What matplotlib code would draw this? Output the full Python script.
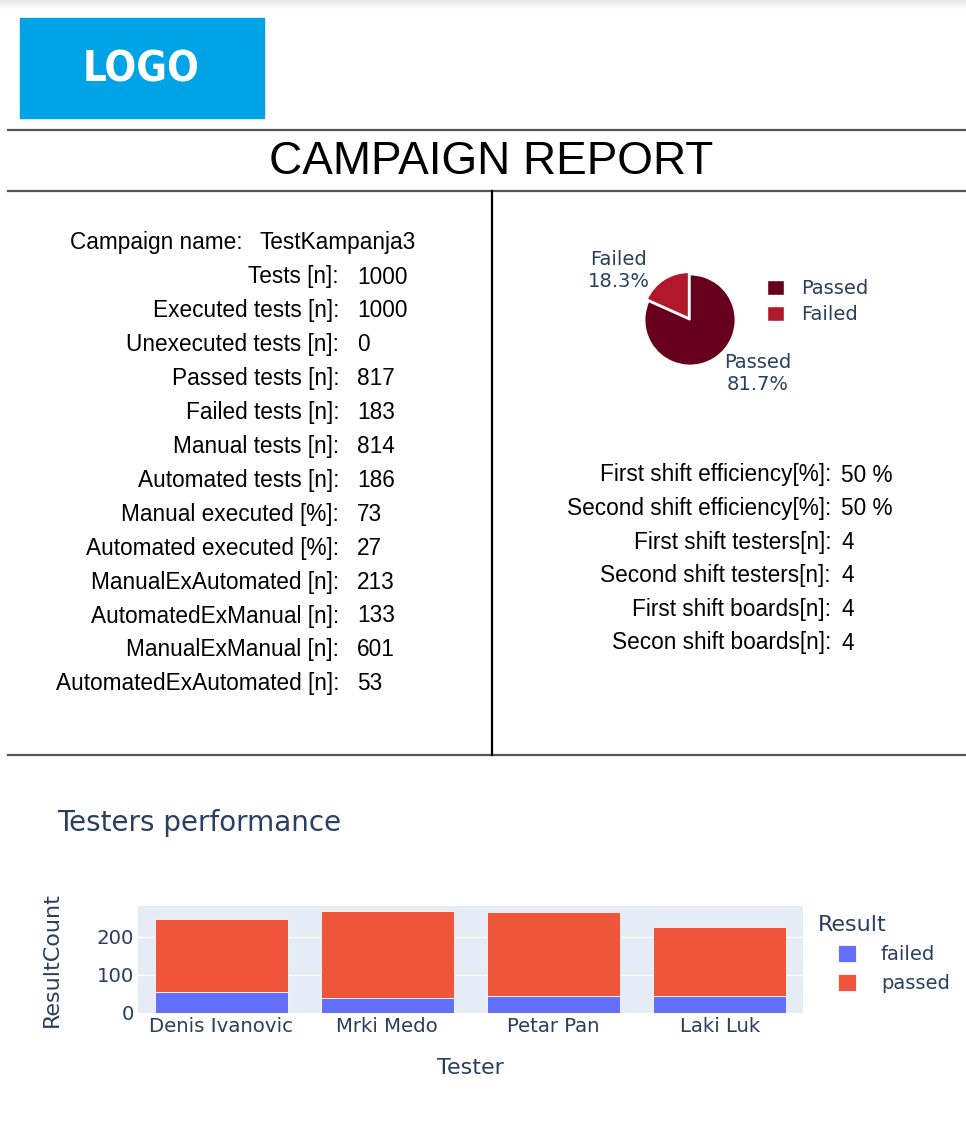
import numpy as np
import matplotlib
matplotlib.use('Agg')
import matplotlib.pyplot as plt
from matplotlib.patches import Rectangle

W, H = 966, 1124

# ---- data ----
campaign_name = "TestKampanja3"
summary_labels = ["Tests [n]:", "Executed tests [n]:", "Unexecuted tests [n]:",
                  "Passed tests [n]:", "Failed tests [n]:", "Manual tests [n]:",
                  "Automated tests [n]:", "Manual executed [%]:", "Automated executed [%]:",
                  "ManualExAutomated [n]:", "AutomatedExManual [n]:", "ManualExManual [n]:",
                  "AutomatedExAutomated [n]:"]
summary_values = ["1000", "1000", "0", "817", "183", "814", "186", "73", "27",
                  "213", "133", "601", "53"]

shift_labels = ["First shift efficiency[%]:", "Second shift efficiency[%]:",
                "First shift testers[n]:", "Second shift testers[n]:",
                "First shift boards[n]:", "Secon shift boards[n]:"]
shift_values = ["50 %", "50 %", "4", "4", "4", "4"]

pie_labels = ["Passed", "Failed"]
pie_values = [817, 183]
pie_colors = ["#67001F", "#B2182B"]

testers = ["Denis Ivanovic", "Mrki Medo", "Petar Pan", "Laki Luk"]
result_names = ["failed", "passed"]
failed_counts = [55, 38, 45, 45]
passed_counts = [190, 228, 220, 179]

PLOTLY_TXT = "#2a3f5f"
ARIAL = "Liberation Sans"


def px_axes(x0, y0, x1, y1):
    return fig.add_axes([x0 / W, 1 - y1 / H, (x1 - x0) / W, (y1 - y0) / H])


fig = plt.figure(figsize=(W / 100, H / 100), dpi=100)
fig.patch.set_facecolor("white")

# background canvas in pixel coordinates
bg = fig.add_axes([0, 0, 1, 1])
bg.set_xlim(0, W)
bg.set_ylim(H, 0)
bg.axis("off")

# top shadow strip
grad = np.linspace(0.9, 1.0, 20).reshape(-1, 1)
bg.imshow(grad, cmap="gray", vmin=0, vmax=1, extent=[0, W, 10, 0], aspect="auto")

# logo
bg.add_patch(Rectangle((20, 18), 244, 100, color="#00A3E6"))
bg.text(141, 69, "LOGO", color="white", fontsize=30, fontweight="bold",
        family="DejaVu Sans", fontstretch="condensed", ha="center", va="center")

# frame lines
bg.plot([8, W], [130, 130], color="#555555", lw=1.6)
bg.plot([8, W], [191, 191], color="#555555", lw=1.6)
bg.plot([8, W], [755, 755], color="#555555", lw=1.6)
bg.plot([492, 492], [191, 755], color="black", lw=1.6)

bg.text(491, 162, "CAMPAIGN REPORT", fontsize=33, family=ARIAL,
        ha="center", va="center", color="black")

# left summary block
FS = 16.3
bg.text(243, 243, "Campaign name:", fontsize=FS, family=ARIAL, ha="right", va="center")
bg.text(260, 243, campaign_name, fontsize=FS, family=ARIAL, ha="left", va="center")
for i, (lab, val) in enumerate(zip(summary_labels, summary_values)):
    y = 277 + i * 33.9
    bg.text(339, y, lab, fontsize=FS, family=ARIAL, ha="right", va="center")
    bg.text(357, y, val, fontsize=FS, family=ARIAL, ha="left", va="center")

# right shift block
for i, (lab, val) in enumerate(zip(shift_labels, shift_values)):
    y = 475 + i * 33.6
    bg.text(831, y, lab, fontsize=FS, family=ARIAL, ha="right", va="center")
    bg.text(841, y, val, fontsize=FS, family=ARIAL, ha="left", va="center")

# pie
ax_pie = px_axes(642, 272, 738, 368)
total = sum(pie_values)
texts = [f"{l}\n{v / total * 100:.1f}%" for l, v in zip(pie_labels, pie_values)]
wedges, label_texts = ax_pie.pie(pie_values, colors=pie_colors, startangle=90,
                                 counterclock=False, explode=[0, 0.06], labels=texts,
                                 labeldistance=1.4,
                                 wedgeprops=dict(edgecolor="white", linewidth=1),
                                 textprops=dict(fontsize=14, color=PLOTLY_TXT,
                                                multialignment="center"))
# plotly puts the small-slice label a bit lower and further out
fx, fy = label_texts[1].get_position()
label_texts[1].set_position((fx * 1.12, fy * 0.9))
ax_pie.set_xlim(-1.06, 1.06)
ax_pie.set_ylim(-1.06, 1.06)
ax_pie.set_aspect("equal")
ax_pie.legend(wedges, pie_labels, loc="upper left", bbox_to_anchor=(767 / W, 1 - 279 / H),
              bbox_transform=fig.transFigure, frameon=False, fontsize=14,
              labelcolor=PLOTLY_TXT, handlelength=0.85, handleheight=0.85,
              handletextpad=0.9, labelspacing=0.38, borderpad=0, borderaxespad=0)

# bar chart
bg.text(57, 823, "Testers performance", fontsize=20, color=PLOTLY_TXT, ha="left", va="center")
ax = px_axes(138, 906, 803, 1013)
ax.set_facecolor("#E5ECF6")
x = np.arange(len(testers))
ax.bar(x, failed_counts, width=0.8, color="#636EFA", edgecolor="white", linewidth=0.6,
       label=result_names[0], zorder=3)
ax.bar(x, passed_counts, width=0.8, bottom=failed_counts, color="#EF553B",
       edgecolor="white", linewidth=0.6, label=result_names[1], zorder=3)
ax.set_xlim(-0.5, len(testers) - 0.5)
ax.set_ylim(0, 280)
ax.set_yticks([0, 100, 200])
ax.set_xticks(x)
ax.set_xticklabels(testers)
ax.grid(axis="y", color="white", lw=1, zorder=0)
ax.set_axisbelow(True)
for s in ax.spines.values():
    s.set_visible(False)
ax.tick_params(length=0, labelsize=14.2, colors=PLOTLY_TXT, pad=3)
ax.set_xlabel("Tester", fontsize=16, color=PLOTLY_TXT, labelpad=16)
ax.set_ylabel("ResultCount", fontsize=16, color=PLOTLY_TXT, labelpad=25)
bg.text(818, 925, "Result", fontsize=16, color=PLOTLY_TXT, ha="left", va="center")
ax.legend(loc="upper left", bbox_to_anchor=(838 / W, 1 - 945 / H),
          bbox_transform=fig.transFigure, frameon=False, fontsize=14,
          labelcolor=PLOTLY_TXT, handlelength=0.95, handleheight=0.95,
          handletextpad=1.25, labelspacing=0.5, borderpad=0, borderaxespad=0)

fig.savefig("out.png", dpi=100)
